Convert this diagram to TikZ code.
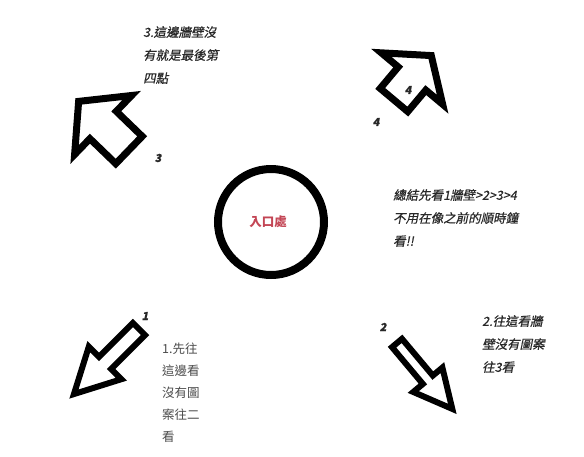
\documentclass[tikz,border=0pt]{standalone}
\usepackage{fontspec}
\usepackage{tikz}
\usetikzlibrary{positioning}
\newfontfamily\cjkit[FakeSlant=0.2, FakeBold=0.6]{Noto Sans CJK TC}
\newfontfamily\cjkup{Noto Sans CJK TC}
\definecolor{notegray}{RGB}{40, 40, 40}
\definecolor{softgray}{RGB}{75, 75, 75}
\definecolor{entryred}{RGB}{195, 70, 85}

\begin{document}
\begin{tikzpicture}[
    x=1pt, y=-1pt,
    arrowline/.style={draw=black, line width=7pt, line join=miter, fill=white},
    note/.style={anchor=north west, align=left, inner sep=0pt, text=notegray,
                 font={\cjkit\fontsize{12.5}{23}\selectfont}},
    plainnote/.style={anchor=north west, align=left, inner sep=0pt, text=softgray,
                      font={\cjkup\fontsize{12.5}{22}\selectfont}},
    num/.style={inner sep=0pt, text=notegray, font={\cjkit\bfseries\fontsize{11}{11}\selectfont}},
    pics/blockarrow/.style n args={4}{code={
        \draw[arrowline] (0,-#2/2) -- (#1-#4,-#2/2) -- (#1-#4,-#3/2) -- (#1,0)
          -- (#1-#4,#3/2) -- (#1-#4,#2/2) -- (0,#2/2) -- cycle;
    }}
  ]
    \useasboundingbox (0,0) rectangle (584,456);

    % Entrance
    \node[circle, draw=black, line width=8pt, minimum size=106pt,
          text=entryred, font={\cjkup\bfseries\fontsize{12.5}{12.5}\selectfont}]
          (entry) at (271,222) {\hspace*{-6pt}入口處};

    % Arrows (tail centre, then length, shaft, head width, head length)
    \pic[rotate=136] at (129,150) {blockarrow={70}{38}{82}{34}};
    \pic[rotate=50] at (394,100) {blockarrow={58}{36}{80}{30}};
    \pic[rotate=225, arrowline/.append style={line width=6pt}] at (139,329) {blockarrow={92}{17}{46}{44}};
    \pic[rotate=-50, arrowline/.append style={line width=6pt}] at (397,343) {blockarrow={86}{13}{38}{38}};

    % Numbers
    \node[num] (n3) at (158,158) {3};
    \node[num] (n4) at (376,122) {4};
    \node[num] (n4in) at (408,90) {4};
    \node[num] (n1) at (145,316) {1};
    \node[num] (n2) at (383,327) {2};

    % Notes
    \node[note] (note3) at (143,26) {3.這邊牆壁沒\\有就是最後第\\四點};
    \node[note] (summary) at (393,189) {總結先看1牆壁>2>3>4\\不用在像之前的順時鐘\\看!!};
    \node[plainnote] (note1) at (162,343) {1.先往\\這邊看\\沒有圖\\案往二\\看};
    \node[note] (note2) at (482,315) {2.往這看牆\\壁沒有圖案\\往3看};
\end{tikzpicture}
\end{document}
